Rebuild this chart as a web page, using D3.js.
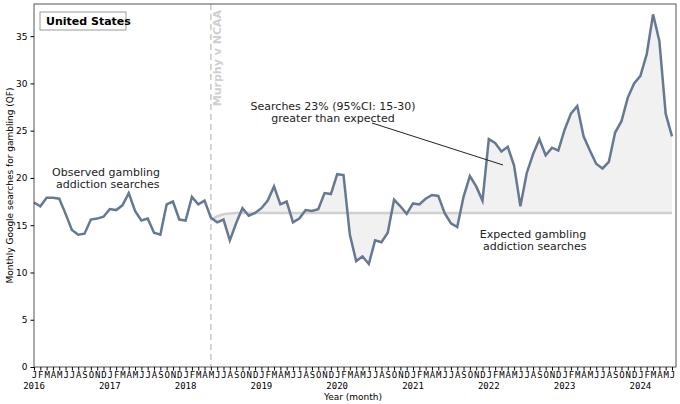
<!DOCTYPE html>
<html>
<head>
<meta charset="utf-8">
<script src="https://cdn.jsdelivr.net/npm/d3@7"></script>
<style>
  body { margin: 0; background: #fff; overflow: hidden; }
  svg { display: block; }
  text { font-family: "DejaVu Sans", sans-serif; }
</style>
</head>
<body>
<svg id="chart"></svg>
<script>
// observed monthly searches, Jan 2016 .. Jun 2024
const observed = [
  17.4, 17.0, 17.9, 17.9, 17.8, 16.2, 14.5, 14.0, 14.1, 15.6, 15.7, 15.9,
  16.7, 16.6, 17.1, 18.4, 16.5, 15.5, 15.7, 14.2, 14.0, 17.2, 17.5, 15.6,
  15.5, 18.0, 17.2, 17.6, 15.8, 15.3, 15.6, 13.4, 15.2, 16.8, 16.0, 16.3,
  16.8, 17.6, 19.1, 17.2, 17.5, 15.3, 15.7, 16.6, 16.5, 16.7, 18.4, 18.3,
  20.4, 20.3, 14.0, 11.2, 11.7, 10.9, 13.4, 13.2, 14.2, 17.7, 17.0, 16.2,
  17.3, 17.2, 17.8, 18.2, 18.1, 16.3, 15.2, 14.8, 18.0, 20.2, 19.1, 17.6,
  24.1, 23.7, 22.8, 23.3, 21.3, 17.0, 20.5, 22.5, 24.1, 22.4, 23.2, 22.9,
  25.1, 26.8, 27.6, 24.4, 22.9, 21.5, 21.0, 21.7, 24.8, 26.0, 28.5, 30.0,
  30.8, 33.1, 37.3, 34.5, 26.8, 24.4
];
// expected (counterfactual) from May 2018 onward
const expectedStart = 28;
const expectedHead = [15.6, 15.95, 16.15, 16.25];
const expectedLevel = 16.3;
const monthLetters = ["J","F","M","A","M","J","J","A","S","O","N","D"];
const years = [2016, 2017, 2018, 2019, 2020, 2021, 2022, 2023, 2024];
const yTicks = [0, 5, 10, 15, 20, 25, 30, 35];

const expected = observed.map((v, i) => {
  if (i < expectedStart) return null;
  const k = i - expectedStart;
  return k < expectedHead.length ? expectedHead[k] : expectedLevel;
});

const width = 680, height = 404;
const margin = {top: 4, right: 4, bottom: 37, left: 34};
const innerWidth = width - margin.left - margin.right;
const innerHeight = height - margin.top - margin.bottom;

const svg = d3.select('#chart').attr('width', width).attr('height', height);
const g = svg.append('g').attr('transform', `translate(${margin.left},${margin.top})`);

const xScale = d3.scaleLinear().domain([0, observed.length - 1]).range([0, 638]);
const yScale = d3.scaleLinear().domain([0, 38.4]).range([innerHeight, 0]);

// shaded gap between observed and expected
const idx = d3.range(expectedStart, observed.length);
g.append('path')
  .datum(idx)
  .attr('d', d3.area().x(i => xScale(i)).y0(i => yScale(expected[i])).y1(i => yScale(observed[i])))
  .style('fill', '#f1f1f1');

// intervention line
g.append('line')
  .attr('x1', xScale(expectedStart)).attr('x2', xScale(expectedStart))
  .attr('y1', 0).attr('y2', innerHeight)
  .style('stroke', '#c8c8c8').style('stroke-width', 1.5).style('stroke-dasharray', '6,4');
g.append('text')
  .attr('transform', `translate(${xScale(expectedStart) + 10},6) rotate(-90)`)
  .style('text-anchor', 'end').style('font-size', '11px').style('font-weight', 'bold').style('fill', '#cfcfcf')
  .text('Murphy v NCAA');

// expected line
g.append('path')
  .datum(idx)
  .attr('d', d3.line().x(i => xScale(i)).y(i => yScale(expected[i])))
  .style('fill', 'none').style('stroke', '#d0d0d0').style('stroke-width', 2.5);

// observed line
g.append('path')
  .datum(observed)
  .attr('d', d3.line().x((d, i) => xScale(i)).y(d => yScale(d)))
  .style('fill', 'none').style('stroke', '#667892').style('stroke-width', 2.5);

// frame
g.append('rect').attr('width', innerWidth).attr('height', innerHeight)
  .style('fill', 'none').style('stroke', '#555').style('stroke-width', 1);

// y axis
const yAxis = g.append('g').call(d3.axisLeft(yScale).tickValues(yTicks).tickSize(3.5));
yAxis.select('.domain').remove();
yAxis.selectAll('text').style('font-size', '9px').style('font-family', 'DejaVu Sans');

// x axis: month letters and years
const xAxis = g.append('g').attr('transform', `translate(0,${innerHeight})`)
  .call(d3.axisBottom(xScale).tickValues(d3.range(observed.length)).tickSize(3.5)
    .tickFormat(i => monthLetters[i % 12]));
xAxis.select('.domain').remove();
xAxis.selectAll('text').attr('y', 5).style('font-size', '9px').style('font-family', 'DejaVu Sans Mono');
g.selectAll('.year').data(years).enter().append('text')
  .attr('x', d => xScale((d - 2016) * 12))
  .attr('y', innerHeight + 22)
  .style('text-anchor', 'middle').style('font-size', '9px').style('font-family', 'DejaVu Sans Mono')
  .text(d => d);

svg.append('text').attr('x', margin.left + 319).attr('y', 400)
  .style('text-anchor', 'middle').style('font-size', '9px').text('Year (month)');
svg.append('text')
  .attr('transform', `translate(13,${margin.top + innerHeight / 2}) rotate(-90)`)
  .style('text-anchor', 'middle').style('font-size', '9px')
  .text('Monthly Google searches for gambling (QF)');

// legend box
svg.append('rect').attr('x', 40).attr('y', 12).attr('width', 86).attr('height', 18)
  .style('fill', '#fff').style('stroke', '#999');
svg.append('text').attr('x', 46).attr('y', 25)
  .style('font-size', '11px').style('font-weight', 'bold').text('United States');

// annotations
const note = (x, y, lines) => {
  const t = svg.append('text').attr('x', x).attr('y', y)
    .style('text-anchor', 'middle').style('font-size', '11px').style('fill', '#222');
  lines.forEach((l, i) => t.append('tspan').attr('x', x).attr('dy', i ? 12 : 0).text(l));
};
note(106, 176, ['Observed gambling', ' addiction searches']);
note(533, 238, ['Expected gambling', ' addiction searches']);
note(333, 110, ['Searches 23% (95%CI: 15-30)', 'greater than expected']);
svg.append('line').attr('x1', 372).attr('y1', 123).attr('x2', 503).attr('y2', 165)
  .style('stroke', '#222').style('stroke-width', 1);
</script>
</body>
</html>
